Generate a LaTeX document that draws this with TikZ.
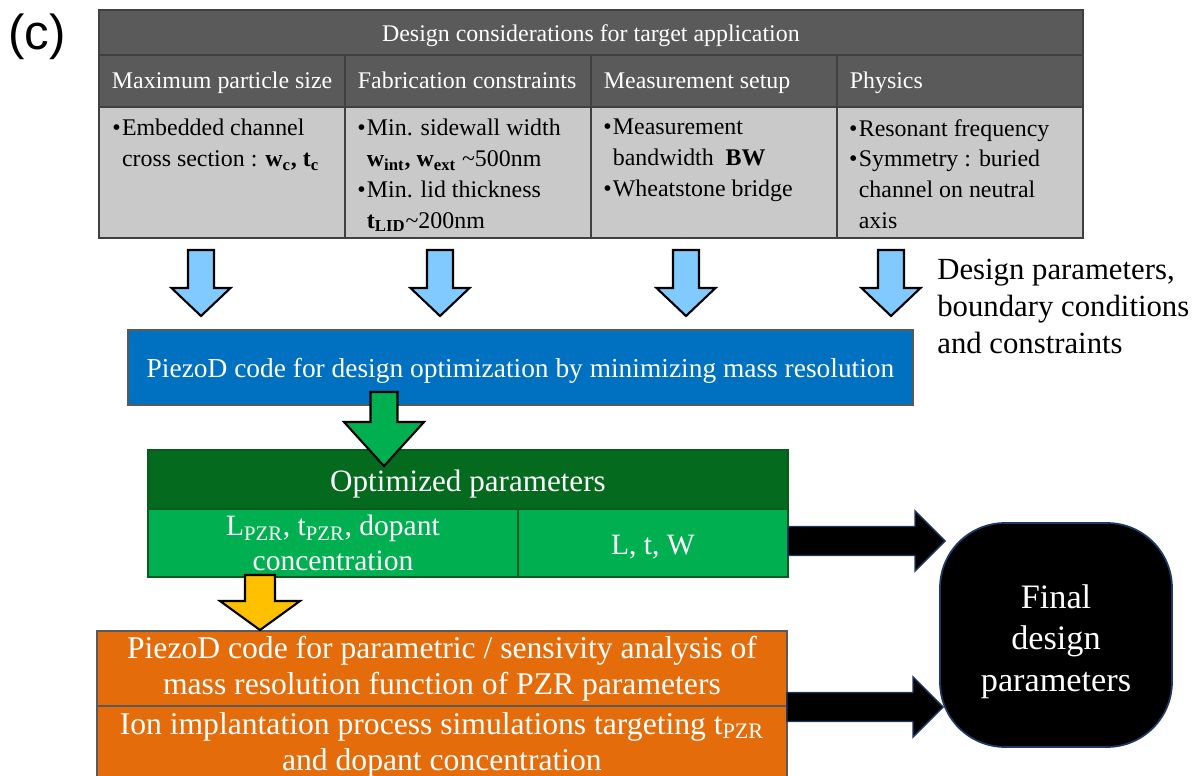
\documentclass[tikz,border=0pt]{standalone}
\usepackage{fontspec}
\setmainfont{Liberation Serif}
\newfontfamily\panelfont{Liberation Sans}
\usetikzlibrary{calc,positioning}
\definecolor{hdrgray}{HTML}{5A5A5A}
\definecolor{cellgray}{HTML}{C9C9C9}
\definecolor{rulegray}{HTML}{404040}
\definecolor{edgegray}{HTML}{595959}
\definecolor{skyblue}{HTML}{80CAFF}
\definecolor{codeblue}{HTML}{0070C0}
\definecolor{optdark}{HTML}{036A1E}
\definecolor{optgreen}{HTML}{00B050}
\definecolor{optedge}{HTML}{0B5A1F}
\definecolor{amber}{HTML}{FFC000}
\definecolor{simorange}{HTML}{E46C0A}
\definecolor{navy}{HTML}{1F3864}
\newcommand{\itm}{\makebox[5.5pt][l]{\textbullet}}
\newcommand{\cnt}{\hspace*{5.5pt}}
\newcommand{\colhead}[1]{\makebox[4.4cm][l]{#1}}

\begin{document}
\begin{tikzpicture}[
  x=0.02cm,y=-0.02cm,
  hdr/.style={draw=rulegray,line width=1.2pt,fill=hdrgray,text=white,anchor=north west,outer sep=0pt,minimum width=4.92cm,minimum height=1.04cm,inner xsep=0.26cm,inner ysep=0pt,text height=11.5pt,text depth=2.5pt,font=\fontsize{13.6}{16}\selectfont},
  cell/.style={draw=rulegray,line width=1.2pt,fill=cellgray,outer sep=0pt,minimum width=4.92cm,minimum height=2.62cm,inner sep=0pt},
  items/.style={anchor=north west,inner sep=0pt,align=left,font=\fontsize{13.6}{17.5}\selectfont},
  pz/.style={draw=edgegray,line width=1pt,fill=codeblue,text=white,minimum width=15.7cm,minimum height=1.5cm,text height=12.6pt,text depth=1.4pt,font=\fontsize{15.6}{18}\selectfont},
  opthdr/.style={draw=optedge,line width=0.8pt,fill=optdark,text=white,anchor=north west,outer sep=0pt,minimum width=12.8cm,minimum height=1.18cm,text height=14pt,text depth=0.3pt,font=\fontsize{17.7}{20}\selectfont},
  optcell/.style={draw=optedge,line width=0.8pt,fill=optgreen,text=white,outer sep=0pt,minimum height=1.36cm,align=center,inner sep=0pt,font=\fontsize{16.8}{20}\selectfont},
  sim/.style={draw=edgegray,line width=1pt,fill=simorange,text=white,anchor=north west,outer sep=0pt,minimum width=13.8cm,align=center,inner sep=0pt,font=\fontsize{18}{20.5}\selectfont},
  fin/.style={draw=navy,line width=1pt,fill=black,text=white,rounded corners=1.3cm,minimum width=4.64cm,minimum height=4.48cm,align=center,font=\fontsize{19.5}{23.5}\selectfont},
  side/.style={anchor=north west,inner sep=0pt,align=left,font=\fontsize{17.5}{21}\selectfont},
  feed/.style={draw=black,line width=1.2pt,line join=miter},
  outarr/.style={draw=navy,line width=0.8pt,fill=black,line join=miter},
  blkdown/.style n args={3}{to path={($(\tikztostart)+(-#1,0)$) -- ($(\tikztotarget)+(-#1,-#3)$) -- ($(\tikztotarget)+(-#2,-#3)$) -- (\tikztotarget) -- ($(\tikztotarget)+(#2,-#3)$) -- ($(\tikztotarget)+(#1,-#3)$) -- ($(\tikztostart)+(#1,0)$) -- cycle}},
  blkright/.style n args={3}{to path={($(\tikztostart)+(0,-#1)$) -- ($(\tikztotarget)+(-#3,-#1)$) -- ($(\tikztotarget)+(-#3,-#2)$) -- (\tikztotarget) -- ($(\tikztotarget)+(-#3,#2)$) -- ($(\tikztotarget)+(-#3,#1)$) -- ($(\tikztostart)+(0,#1)$) -- cycle}}
]
\useasboundingbox (0,0) rectangle (1196,776);
\clip (0,0) rectangle (1196,776);

\node[anchor=west,inner sep=0pt,font=\panelfont\fontsize{28}{32}\selectfont] (panel) at (8,37) {(c)};

\node[hdr,minimum width=19.68cm,minimum height=0.9cm,text height=12.5pt] (design) at (99,10) {Design considerations for target application};
\node[hdr,below=0pt of design.south west,anchor=north west] (hMax) {\colhead{Maximum particle size}};
\node[hdr,right=0pt of hMax] (hFab) {\colhead{Fabrication constraints}};
\node[hdr,right=0pt of hFab] (hMeas) {\colhead{Measurement setup}};
\node[hdr,right=0pt of hMeas] (hPhys) {\colhead{Physics}};
\node[cell,below=0pt of hMax] (bMax) {};
\node[cell,below=0pt of hFab] (bFab) {};
\node[cell,below=0pt of hMeas] (bMeas) {};
\node[cell,below=0pt of hPhys] (bPhys) {};
\node[items] (tMax) at ($(bMax.north west)+(13,12)$) {\itm Embedded channel\\\cnt cross section : \textbf{w\textsubscript{c}, t\textsubscript{c}}};
\node[items] (tFab) at ($(bFab.north west)+(12,12)$) {\itm Min. sidewall width\\\cnt\textbf{w\textsubscript{int}, w\textsubscript{ext}} \textasciitilde500nm\\\itm Min. lid thickness\\\cnt\textbf{t\textsubscript{LID}}\textasciitilde200nm};
\node[items] (tMeas) at ($(bMeas.north west)+(12,12)$) {\itm Measurement\\\cnt bandwidth \ \textbf{BW}\\\itm Wheatstone bridge};
\node[items] (tPhys) at ($(bPhys.north west)+(12,12)$) {\itm Resonant frequency\\\itm Symmetry : buried\\\cnt channel on neutral\\\cnt axis};

\node[side] (bounds) at (937,259) {Design parameters,\\boundary conditions\\and constraints};

\node[pz] (pzcode) at (520.5,367.5) {PiezoD code for design optimization by minimizing mass resolution};

\node[opthdr] (opt) at (148,450) {Optimized parameters};
\node[optcell,below=0pt of opt.south west,anchor=north west,minimum width=7.4cm] (pzr) {L\textsubscript{PZR}, t\textsubscript{PZR}, dopant\\concentration};
\node[optcell,right=0pt of pzr,minimum width=5.4cm] (dims) {\rule{0pt}{16pt}L, t, W};

\node[sim,minimum height=1.5cm] (sens) at (97,631) {PiezoD code for parametric / sensivity analysis of\\mass resolution function of PZR parameters};
\node[sim,below=0pt of sens.south west,anchor=north west,minimum height=1.54cm] (ion) {Ion implantation process simulations targeting t\textsubscript{PZR}\\and dopant concentration};

\node[fin] (final) at (1056,635) {\rule{0pt}{21pt}Final\\design\\parameters};

\coordinate (srcA) at (201,250);
\coordinate (tipA) at (201,316);
\coordinate (srcB) at (440,250);
\coordinate (tipB) at (440,316);
\coordinate (srcC) at (686,250);
\coordinate (tipC) at (686,316);
\coordinate (srcD) at (891,250);
\coordinate (tipD) at (891,316);
\draw[feed,fill=skyblue,blkdown={13}{29.5}{28}] (srcA) to (tipA);
\draw[feed,fill=skyblue,blkdown={13}{29.5}{28}] (srcB) to (tipB);
\draw[feed,fill=skyblue,blkdown={13}{29.5}{28}] (srcC) to (tipC);
\draw[feed,fill=skyblue,blkdown={13}{29.5}{28}] (srcD) to (tipD);

\coordinate (srcO) at (384,392);
\coordinate (tipO) at (384,466);
\draw[feed,fill=optgreen,blkdown={13.5}{40}{44}] (srcO) to (tipO);
\coordinate (srcS) at (260,575);
\coordinate (tipS) at (260,630);
\draw[feed,fill=amber,blkdown={15}{40}{29}] (srcS) to (tipS);

\coordinate (tipU) at (945,541);
\coordinate (tipL) at (943,707);
\draw[outarr,blkright={14.5}{30}{30}] (tipU -| dims.east) to (tipU);
\draw[outarr,blkright={14.5}{30}{30}] (tipL -| sens.east) to (tipL);
\end{tikzpicture}
\end{document}
